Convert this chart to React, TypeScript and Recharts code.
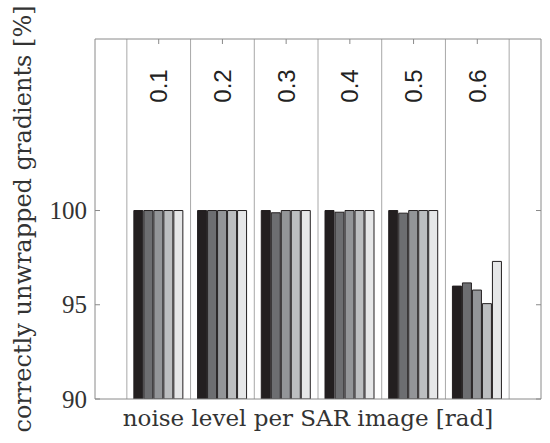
import { Bar, BarChart, ReferenceLine, XAxis, YAxis } from "recharts";

const noiseLevels = [0.1, 0.2, 0.3, 0.4, 0.5, 0.6];
const seriesA = [100, 100, 100, 100, 100, 95.99];
const seriesB = [100, 100, 99.88, 99.91, 99.86, 96.16];
const seriesC = [100, 100, 100, 100, 100, 95.78];
const seriesD = [100, 100, 100, 100, 100, 95.06];
const seriesE = [100, 100, 100, 100, 100, 97.3];
const yTicks = [90, 95, 100];

const data = noiseLevels.map((level, i) => ({
  level,
  a: seriesA[i],
  b: seriesB[i],
  c: seriesC[i],
  d: seriesD[i],
  e: seriesE[i],
}));

// borders between the groups
const boundaries = [
  ...noiseLevels.map((l) => +(l - 0.05).toFixed(2)),
  +(noiseLevels[noiseLevels.length - 1] + 0.05).toFixed(2),
];

const fills = ["#231f20", "#6d6e71", "#939598", "#bcbec0", "#e6e7e8"];
const keys = ["a", "b", "c", "d", "e"];
const boxColor = "#8a8a8a";

const LeftTick = (props: any) => {
  const { x, y, payload } = props;
  return (
    <g>
      <line x1={x + 8} x2={x + 13} y1={y} y2={y} stroke={boxColor} />
      <text
        x={x}
        y={y}
        textAnchor="end"
        dominantBaseline="central"
        fontFamily="Liberation Serif"
        fontSize={25}
        fill="#333"
      >
        {payload.value}
      </text>
    </g>
  );
};

const RightTick = (props: any) => {
  const { x, y } = props;
  return <line x1={x} x2={x - 5} y1={y} y2={y} stroke={boxColor} />;
};

const TopTick = (props: any) => {
  const { x, y, payload } = props;
  return (
    <g>
      <line x1={x} x2={x} y1={y} y2={y + 5} stroke={boxColor} />
      <text
        x={x}
        y={y + 47}
        transform={`rotate(-90 ${x} ${y + 47})`}
        textAnchor="middle"
        dominantBaseline="central"
        fontFamily="Liberation Sans"
        fontSize={24}
        fill="#222"
      >
        {Number(payload.value).toFixed(1)}
      </text>
    </g>
  );
};

export default function App() {
  return (
    <div style={{ position: "absolute", left: 0, top: 0, background: "#fff" }}>
      <BarChart
        width={550}
        height={443}
        data={data}
        margin={{ top: 38, right: 8, bottom: 0, left: 0 }}
        barGap={1}
        barSize={9}
      >
        <XAxis
          xAxisId="bottom"
          dataKey="level"
          type="number"
          domain={[0, 0.7]}
          allowDataOverflow
          ticks={[]}
          height={44}
          axisLine={{ stroke: boxColor }}
          tickLine={false}
          label={{
            value: "noise level per SAR image [rad]",
            position: "center",
            dx: -10,
            dy: -3,
            style: {
              fontFamily: "DejaVu Serif",
              fontSize: 23,
              fill: "#333",
            },
          }}
        />
        <XAxis
          xAxisId="top"
          orientation="top"
          dataKey="level"
          type="number"
          domain={[0, 0.7]}
          allowDataOverflow
          ticks={noiseLevels}
          height={1}
          axisLine={{ stroke: boxColor }}
          tickLine={false}
          tickSize={0}
          tickMargin={0}
          tick={<TopTick />}
          interval={0}
        />
        <YAxis
          yAxisId="left"
          type="number"
          domain={[90, 109.1]}
          allowDataOverflow
          ticks={yTicks}
          width={95}
          axisLine={{ stroke: boxColor }}
          tickLine={false}
          tickSize={0}
          tickMargin={8}
          tick={<LeftTick />}
          label={{
            value: "correctly unwrapped gradients [%]",
            angle: -90,
            position: "center",
            dx: -25,
            style: {
              fontFamily: "DejaVu Serif",
              fontSize: 24,
              fill: "#333",
              textAnchor: "middle",
            },
          }}
        />
        <YAxis
          yAxisId="right"
          orientation="right"
          type="number"
          domain={[90, 109.1]}
          allowDataOverflow
          ticks={yTicks}
          width={1}
          axisLine={{ stroke: boxColor }}
          tickLine={false}
          tickSize={0}
          tickMargin={0}
          tick={<RightTick />}
        />
        {boundaries.map((b) => (
          <ReferenceLine
            key={b}
            x={b}
            xAxisId="bottom"
            yAxisId="left"
            stroke="#a8a8a8"
          />
        ))}
        {keys.map((k, i) => (
          <Bar
            key={k}
            dataKey={k}
            xAxisId="bottom"
            yAxisId="left"
            fill={fills[i]}
            stroke="#231f20"
            strokeWidth={1}
            isAnimationActive={false}
          />
        ))}
      </BarChart>
    </div>
  );
}
